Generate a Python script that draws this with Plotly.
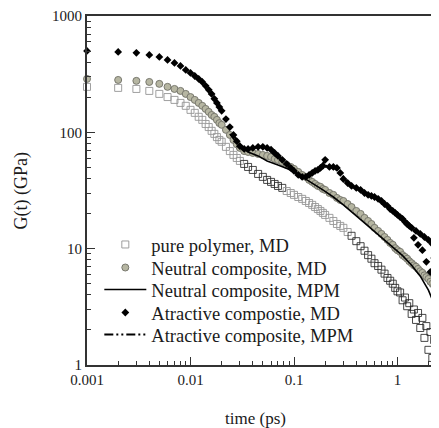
import plotly.graph_objects as go

# ---------------- data ----------------
t_md = [0.001, 0.002, 0.003, 0.004, 0.005, 0.006, 0.007, 0.008, 0.009, 0.010,
        0.011, 0.012, 0.013, 0.014, 0.015, 0.016, 0.017, 0.018, 0.019, 0.020,
        0.022, 0.024, 0.026, 0.028, 0.030,
        0.033, 0.036, 0.040, 0.045, 0.050,
        0.055, 0.060, 0.065, 0.070, 0.077, 0.085, 0.093,
        0.10, 0.11, 0.12, 0.13, 0.14, 0.15, 0.16, 0.17, 0.18, 0.19, 0.20,
        0.22, 0.24, 0.26, 0.28, 0.30, 0.33, 0.36, 0.40, 0.44, 0.48,
        0.52, 0.56, 0.60, 0.65, 0.70, 0.75, 0.80, 0.85, 0.90, 0.95, 1.00,
        1.06, 1.12, 1.18, 1.24, 1.30, 1.37, 1.44, 1.51, 1.58, 1.66,
        1.74, 1.82, 1.90, 1.99, 2.08, 2.17, 2.26, 2.36, 2.46, 2.56]

g_pure_md = [246, 241, 236, 227, 214, 201, 190, 179, 169, 156, 147, 136, 128, 118, 111, 103, 97, 91, 86, 83,
             75, 69, 64, 60.2, 56.8,
             53.5, 50.4, 47.5, 43.9, 41.4,
             39, 37.5, 36, 34.6, 33.3, 31.3, 30.1,
             29, 27.8, 26.8, 25.7, 24.7, 23.8, 22.8, 21.9, 21.1, 20.3, 19.5,
             18.4, 17.3, 16.3, 15.7, 15.1, 13.9, 12.9, 11.6, 10.5, 9.6,
             8.8, 8.2, 7.5, 7.1, 6.6, 6.1, 5.6, 5.3, 5.0, 4.6, 4.3,
             4.2, 3.6, 3.8, 3.2, 3.4, 2.75, 3.0, 2.44, 2.8, 2.08,
             2.54, 1.71, 2.16, 1.35, 1.92, 1.15, 1.64, 1.06, 1.46, 1.22]

g_neutral_md = [288, 282, 277, 271, 261, 246, 236, 227, 214, 201, 190, 179, 169, 159, 150, 141, 136, 128, 120, 116,
                105, 95, 86, 79, 73.5,
                69, 67.8, 66.5, 65.2, 63.9,
                62.7, 61.4, 59, 57.9, 55.6, 52.5, 50.4,
                48.5, 45.7, 43, 41.4, 39, 37.5, 36, 34.6, 34, 32.6, 32,
                30.1, 29, 27.3, 26.2, 25.7, 24.2, 22.8, 21.1, 19.9, 18.4,
                17.3, 16.3, 15.1, 14.2, 13.4, 12.6, 11.9, 11.2, 10.8, 10.1, 9.7,
                9.4, 8.8, 8.5, 8.2, 7.8, 7.5, 7.2, 7.0, 6.7, 6.4,
                6.2, 5.9, 5.7, 5.5, 5.2, 5.0, 4.8, 4.6, 4.4, 4.2]

g_attr_md = [501, 491, 482, 463, 445, 419, 395, 372, 344, 324, 305, 288, 271, 251, 232, 214, 194, 179, 165, 153,
             130, 111, 95, 84, 76,
             72, 72, 73.5, 75, 75,
             73.5, 71, 66.5, 62.7, 58, 53.5, 49.4,
             46.6, 43, 41.4, 41.4, 43, 44.8, 46.6, 47.5, 49.4, 51.5, 58,
             50.4, 50.4, 49.4, 44.8, 39.7, 36.7, 34.6, 33.3, 32, 30.1,
             29, 28.4, 27.8, 26.8, 25.7, 24.2, 23.3, 21.9, 21.1, 20.3, 19.5,
             18.7, 18, 17, 16.3, 15.7, 15.1, 12.4, 14.2, 10.8, 13.4,
             9.7, 12.6, 7.7, 11.9, 6.3, 11, 8.3, 10.3, 4.4, 9.7]

t_neutral_mpm = [0.024, 0.026, 0.030, 0.036, 0.045, 0.055, 0.070, 0.093, 0.12, 0.15, 0.19, 0.24,
                 0.30, 0.40, 0.52, 0.70, 0.90, 1.12, 1.37, 1.66, 1.99, 2.26, 2.46, 2.56]
g_neutral_mpm = [97, 88, 76, 67.8, 62.7, 56.8, 52.5, 47.5, 41.4, 36.7, 32, 27.8,
                 23.8, 19.1, 15.7, 12.6, 10.3, 8.7, 7.2, 5.8, 4.4, 3.4, 2.8, 2.44]

t_attr_mpm = [0.026, 0.030, 0.036, 0.045, 0.055, 0.065, 0.077, 0.093, 0.11, 0.13, 0.15, 0.17,
              0.19, 0.20, 0.205, 0.24, 0.28, 0.33, 0.40, 0.48, 0.56, 0.65, 0.75, 0.85,
              1.0, 1.18, 1.37, 1.58, 1.82, 2.08, 2.36, 2.56]
g_attr_mpm = [95, 76, 72, 75, 73.5, 66.5, 58, 49.4, 43, 41.4, 44.8, 47.5,
              51.5, 61, 50.4, 50.4, 44.8, 36.7, 33.3, 30.1, 28.4, 26.8, 24.2, 21.9,
              19.5, 17, 15.1, 13.8, 12.6, 11.4, 10.3, 9.8]

x_tickvals = [0.001, 0.01, 0.1, 1]
x_ticktext = ["0.001", "0.01", "0.1", "1"]
y_tickvals = [1, 10, 100, 1000]
y_ticktext = ["1", "10", "100", "1000"]

legend_names = ["pure polymer, MD", "Neutral composite, MD", "Neutral composite, MPM",
                "Atractive compostie, MD", "Atractive composite, MPM"]

# ---------------- styling ----------------
FONT = "Liberation Serif, Times New Roman, serif"
INK = "#1a1a1a"

sq_edge = []
for tv in t_md:
    if 0.033 <= tv <= 0.077 or tv >= 0.36:
        sq_edge.append("rgba(40,40,40,0.85)")
    else:
        sq_edge.append("rgba(150,150,150,0.9)")

legend_ids = ["legend", "legend2", "legend3", "legend4", "legend5"]

fig = go.Figure()
fig.add_trace(go.Scatter(
    x=t_md, y=g_pure_md, mode="markers", name=legend_names[0], cliponaxis=False,
    legend=legend_ids[0],
    marker=dict(symbol="square-open", size=7, color=sq_edge, line=dict(width=1, color=sq_edge))))
fig.add_trace(go.Scatter(
    x=t_md, y=g_neutral_md, mode="markers", name=legend_names[1], cliponaxis=False,
    legend=legend_ids[1],
    marker=dict(symbol="circle", size=7, color="rgb(182,182,162)",
                line=dict(width=1, color="rgb(120,120,110)"))))
fig.add_trace(go.Scatter(
    x=t_neutral_mpm, y=g_neutral_mpm, mode="lines", name=legend_names[2], cliponaxis=False,
    legend=legend_ids[2],
    line=dict(color="black", width=1.6)))
fig.add_trace(go.Scatter(
    x=t_md, y=g_attr_md, mode="markers", name=legend_names[3], cliponaxis=False,
    legend=legend_ids[3],
    marker=dict(symbol="diamond", size=6, color="black", line=dict(width=0))))
fig.add_trace(go.Scatter(
    x=t_attr_mpm, y=g_attr_mpm, mode="lines", name=legend_names[4], cliponaxis=False,
    legend=legend_ids[4],
    line=dict(color="black", width=2.2, dash="9px,3px,2px,3px,2px,3px")))

minor_x = [m * 10 ** e for e in range(-3, 1) for m in range(2, 10)]
minor_y = [m * 10 ** e for e in range(0, 3) for m in range(2, 10)]

axis_common = dict(
    showgrid=False, zeroline=False, showline=True, linewidth=2, linecolor="#333333",
    ticks="inside", ticklen=8, tickwidth=1.2, tickcolor="#333333",
    tickfont=dict(family=FONT, size=15, color=INK), automargin=False,
)

# one legend box per row so the row pitch matches the reference
row_y = [0.344, 0.278, 0.215, 0.149, 0.086]
legend_style = dict(x=0.035, xanchor="left", yanchor="middle",
                    bgcolor="rgba(0,0,0,0)", borderwidth=0,
                    font=dict(family=FONT, size=18.5, color=INK),
                    itemwidth=42, tracegroupgap=0)
legends = {}
for lid, ry in zip(legend_ids, row_y):
    legends[lid] = dict(y=ry, **legend_style)

# the page body has an 8px margin; the figure is sized so the plot area
# lands at the same window pixels as in the reference
fig.update_layout(
    width=431, height=420,
    margin=dict(l=79, r=0, t=8, b=63),
    paper_bgcolor="white", plot_bgcolor="white",
    font=dict(family=FONT, color=INK),
    xaxis=dict(type="log", range=[-3, 0.401], tickmode="array", tickvals=x_tickvals,
               ticktext=x_ticktext, mirror=True,
               minor=dict(ticks="inside", ticklen=4, tickwidth=1, tickcolor="#333333",
                          tickmode="array", tickvals=minor_x, showgrid=False),
               **axis_common),
    yaxis=dict(type="log", range=[0, 3], tickmode="array", tickvals=y_tickvals,
               ticktext=y_ticktext,
               minor=dict(ticks="inside", ticklen=4, tickwidth=1, tickcolor="#333333",
                          tickmode="array", tickvals=minor_y, showgrid=False),
               **axis_common),
    showlegend=True,
    annotations=[
        dict(text="time (ps)", xref="paper", yref="paper", x=0.48, y=-0.152,
             xanchor="center", yanchor="middle", showarrow=False,
             font=dict(family=FONT, size=17, color=INK)),
        dict(text="G(t) (GPa)", xref="paper", yref="paper", x=-0.185, y=0.5,
             xanchor="center", yanchor="middle", showarrow=False, textangle=-90,
             font=dict(family=FONT, size=18, color=INK)),
    ],
    **legends,
)

fig.write_html("out.html")
